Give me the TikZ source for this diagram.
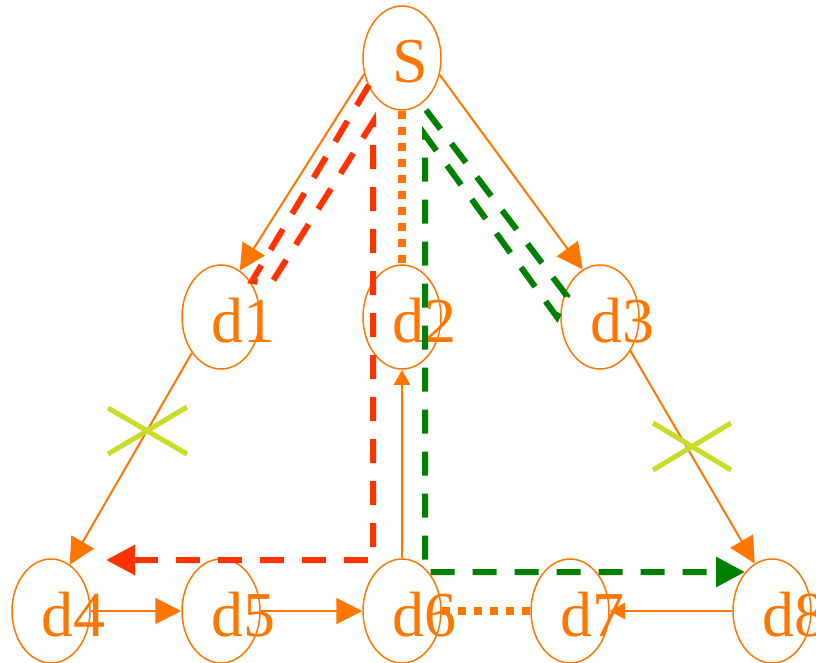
\documentclass[tikz,border=0pt]{standalone}
\usepackage{fontspec}
\setmainfont{Liberation Serif}
\usetikzlibrary{shapes.geometric,arrows.meta}
\definecolor{orng}{RGB}{255,119,0}
\definecolor{rd}{RGB}{255,51,0}
\definecolor{grn}{RGB}{0,128,0}
\definecolor{xcol}{RGB}{200,220,40}
\begin{document}
\begin{tikzpicture}[x=1pt,y=-1pt,
  nodeell/.style={ellipse,draw=orng,line width=1.5pt,minimum width=78pt,minimum height=104pt,inner sep=0pt},
  lbl/.style={anchor=base west,inner sep=0pt,text=orng,font=\fontsize{64}{64}\selectfont},
  conn/.style={draw=orng,line width=2pt,-{Triangle[length=26pt,width=26pt]}},
  connsmall/.style={draw=orng,line width=2pt,-{Triangle[length=15pt,width=16pt]}},
  dotline/.style={draw=orng,line width=8pt,dash pattern=on 8pt off 8pt},
  redpath/.style={draw=rd,line width=6pt,dash pattern=on 24pt off 18pt,-{Triangle[length=29pt,width=29pt]}},
  greenpath/.style={draw=grn,line width=6pt,dash pattern=on 24pt off 18pt,-{Triangle[length=29pt,width=29pt]}},
  xmark/.style={draw=xcol,line width=5pt}
]
\useasboundingbox (0,0) rectangle (816,663);
% nodes
\node[nodeell] (S)  at (402,58)  {};
\node[nodeell] (d1) at (221,317) {};
\node[nodeell] (d2) at (402,317) {};
\node[nodeell] (d3) at (600,317) {};
\node[nodeell] (d4) at (51,611)  {};
\node[nodeell] (d5) at (221,611) {};
\node[nodeell] (d6) at (402,611) {};
\node[nodeell] (d7) at (570,611) {};
\node[nodeell] (d8) at (772,611) {};
% labels
\node[lbl] (Sl)  at (392,83)  {S};
\node[lbl] (d1l) at (211,342) {d1};
\node[lbl] (d2l) at (392,342) {d2};
\node[lbl] (d3l) at (590,342) {d3};
\node[lbl] (d4l) at (41,636)  {d4};
\node[lbl] (d5l) at (211,636) {d5};
\node[lbl] (d6l) at (392,636) {d6};
\node[lbl] (d7l) at (560,636) {d7};
\node[lbl] (d8l) at (762,636) {d8};
% orange connectors
\draw[conn] (S.203) -- (d1.68);
\draw[conn] (S.336) -- (d3.110);
\draw[conn] (d1.231) -- (d4.68);
\draw[conn] (d3.312) -- (d8.110);
\draw[conn] (d4) -- (d5);
\draw[conn] (d5) -- (d6);
\draw[connsmall] (d8) -- (d7);
\draw[connsmall] (d6) -- (d2);
% dotted
\draw[dotline] (S.south) -- (d2.north);
\draw[dotline] (d6.east) -- (d7.west);
% red dashed path
\coordinate (r1) at (369,85);
\coordinate (r2) at (252,281);
\coordinate (r3) at (271,284);
\coordinate (r4) at (373,122);
\coordinate (r5) at (373,560);
\coordinate (r6) at (106,560);
\draw[redpath] (r1) -- (r2) -- (r3) -- (r4) -- (r5) -- (r6);
% green dashed path
\coordinate (g1) at (426,110);
\coordinate (g2) at (567,296);
\coordinate (g3) at (557,317);
\coordinate (g4) at (425,135);
\coordinate (g5) at (425,572);
\coordinate (g6) at (745,572);
\draw[greenpath] (g1) -- (g2) -- (g3) -- (g4) -- (g5) -- (g6);
% cross marks
\draw[xmark] (108,408) -- (187,454);
\draw[xmark] (108,454) -- (187,407);
\draw[xmark] (653,423) -- (731,470);
\draw[xmark] (653,470) -- (731,423);
\end{tikzpicture}
\end{document}
